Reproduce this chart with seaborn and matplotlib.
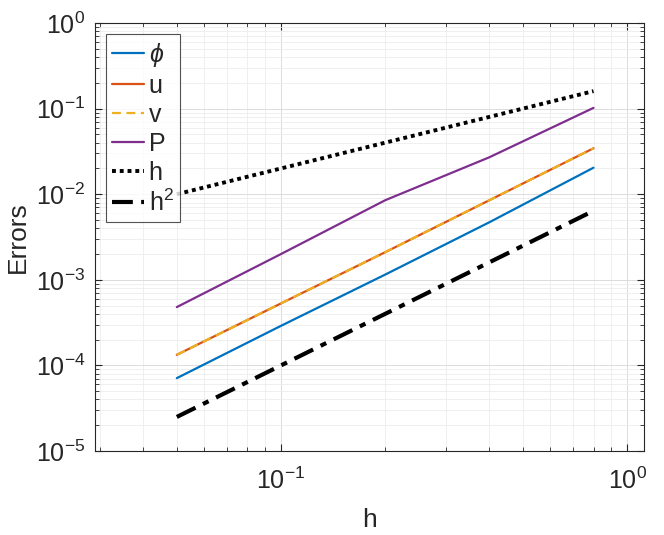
import numpy as np
import pandas as pd
import matplotlib
matplotlib.use('Agg')
import matplotlib.pyplot as plt
import seaborn as sns

# Datos
h = [0.05, 0.1, 0.2, 0.4, 0.8]
err_phi = [7.1e-5, 2.9e-4, 1.15e-3, 4.7e-3, 2.04e-2]
err_u = [1.33e-4, 5.3e-4, 2.1e-3, 8.5e-3, 3.44e-2]
err_v = [1.33e-4, 5.3e-4, 2.1e-3, 8.5e-3, 3.44e-2]
err_P = [4.8e-4, 2.0e-3, 8.5e-3, 2.7e-2, 1.02e-1]
ref_h = [0.01, 0.02, 0.04, 0.08, 0.16]
ref_h2 = [2.5e-5, 1.0e-4, 4.0e-4, 1.6e-3, 6.4e-3]

sns.set_style('ticks')
plt.rcParams['font.family'] = ['Liberation Sans', 'DejaVu Sans']
plt.rcParams['mathtext.fontset'] = 'custom'
plt.rcParams['mathtext.rm'] = 'Liberation Sans'
plt.rcParams['mathtext.it'] = 'Liberation Sans:italic'

fig = plt.figure(figsize=(6.64, 5.35), dpi=100)
ax = fig.add_axes([0.143, 0.157, 0.827, 0.800])

# Curvas (colores por defecto de MATLAB)
series = [
    (err_phi, r'$\phi$', '#0072BD', '-', 1.6),
    (err_u, 'u', '#D95319', '-', 1.6),
    (err_v, 'v', '#EDB120', (0, (4, 2.5)), 1.6),
    (err_P, 'P', '#7E2F8E', '-', 1.6),
    (ref_h, 'h', 'black', (0, (1, 1)), 2.8),
    (ref_h2, 'h$^2$', 'black', (0, (5, 2, 1.5, 2)), 3.0),
]
for vals, lab, col, ls, lw in series:
    df = pd.DataFrame({'h': h, 'err': vals})
    sns.lineplot(data=df, x='h', y='err', ax=ax, color=col, linestyle=ls,
                 linewidth=lw, label=lab)

ax.set_xscale('log')
ax.set_yscale('log')
ax.set_xlim(0.029, 1.12)
ax.set_ylim(1e-5, 1)

# Cuadrícula estilo MATLAB
ax.grid(True, which='major', color='#dcdcdc', linewidth=0.7)
ax.grid(True, which='minor', color='#ececec', linewidth=0.6)
ax.set_axisbelow(True)
ax.tick_params(which='both', direction='in', top=True, right=True,
               labelsize=18, colors='#262626')
ax.tick_params(axis='x', which='major', pad=12)
ax.tick_params(axis='y', which='major', pad=7)
ax.tick_params(which='major', length=5)
ax.tick_params(which='minor', length=3)
for s in ax.spines.values():
    s.set_color('#262626')
    s.set_linewidth(0.8)

ax.set_xlabel('h', fontsize=19, color='#262626', labelpad=10)
ax.set_ylabel('Errors', fontsize=19, color='#262626', labelpad=4)

leg = ax.legend(loc='upper left', fontsize=18, frameon=True, fancybox=False,
                handlelength=1.25, handletextpad=0.2, labelspacing=0.2,
                borderpad=0.25, borderaxespad=0.45)
leg.get_frame().set_edgecolor('#262626')
leg.get_frame().set_linewidth(0.8)

fig.savefig('out.png', dpi=100)
